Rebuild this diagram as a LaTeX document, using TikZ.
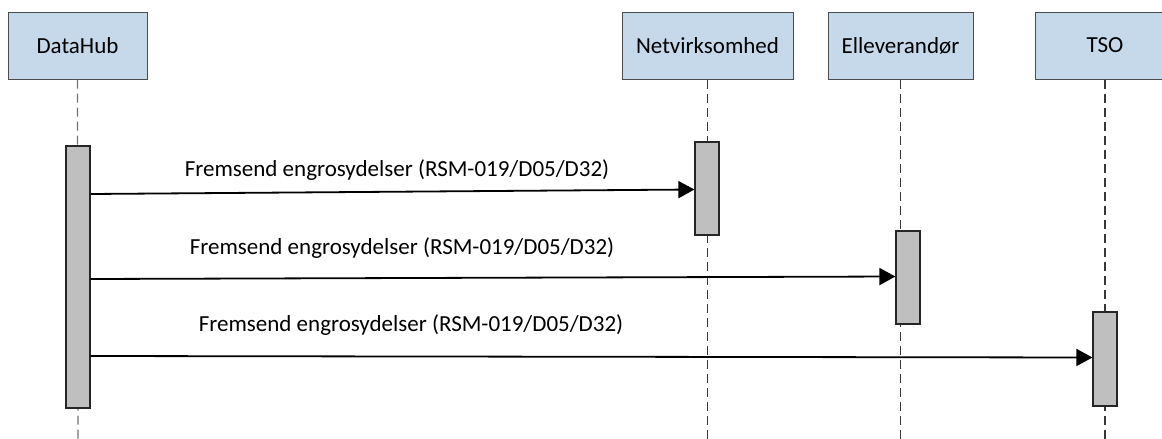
\documentclass[tikz,border=0pt]{standalone}
\usepackage{fontspec}
\setmainfont{Carlito}
\usetikzlibrary{arrows.meta}
\definecolor{boxblue}{RGB}{198,217,234}
\definecolor{barfill}{RGB}{191,191,191}
\tikzset{
  actor/.style={draw=black!70, line width=1pt, fill=boxblue, inner sep=0pt,
    minimum height=67pt, font=\fontsize{23}{27}\selectfont},
  actbar/.style={draw=black!85, line width=1.2pt, fill=barfill, inner sep=0pt, minimum width=24pt},
  lifeline/.style={draw=black!78, line width=1.2pt, dash pattern=on 9pt off 5pt},
  msg/.style={draw=black, line width=1.8pt, -{Triangle[length=16pt,width=17pt]}},
  msglabel/.style={font=\fontsize{23}{27}\selectfont, inner sep=0pt}
}
\begin{document}
\begin{tikzpicture}[x=1pt,y=-1pt]
\useasboundingbox (0,0) rectangle (1162,439);
% actors
\node[actor, minimum width=139pt] (dh) at (77.5,45.5) {DataHub};
\node[actor, minimum width=171pt] (nv) at (707.5,45.5) {Netvirksomhed};
\node[actor, minimum width=145pt] (el) at (900.5,45.5) {Elleverandør};
\node[actor, minimum width=140pt] (tso) at (1105,45.5) {TSO};
% lifeline ends
\coordinate (dhend) at (78,439);
\coordinate (nvend) at (707.5,439);
\coordinate (elend) at (900.5,439);
\coordinate (tsoend) at (1105,439);
\draw[lifeline, draw=black!55] (dh.south) -- (dhend);
\draw[lifeline] (nv.south) -- (nvend);
\draw[lifeline] (el.south) -- (elend);
\draw[lifeline] (tso.south) -- (tsoend);
% activation bars
\node[actbar, minimum height=262pt] (dhbar) at (78,277) {};
\node[actbar, minimum height=93pt] (nvbar) at (707,188.5) {};
\node[actbar, minimum height=93pt] (elbar) at (908,277.5) {};
\node[actbar, minimum height=94pt] (tsobar) at (1105,359) {};
% messages
\coordinate (m1s) at (dhbar.east |- 0,194);
\coordinate (m2s) at (dhbar.east |- 0,279);
\coordinate (m3s) at (dhbar.east |- 0,356);
\draw[msg] (m1s) -- (nvbar.west |- 0,189.5);
\draw[msg] (m2s) -- (elbar.west |- 0,276.5);
\draw[msg] (m3s) -- (tsobar.west |- 0,357.5);
\node[msglabel] (l1) at (397,170) {Fremsend engrosydelser (RSM-019/D05/D32)};
\node[msglabel] (l2) at (402,248) {Fremsend engrosydelser (RSM-019/D05/D32)};
\node[msglabel] (l3) at (411,325) {Fremsend engrosydelser (RSM-019/D05/D32)};
\end{tikzpicture}
\end{document}
